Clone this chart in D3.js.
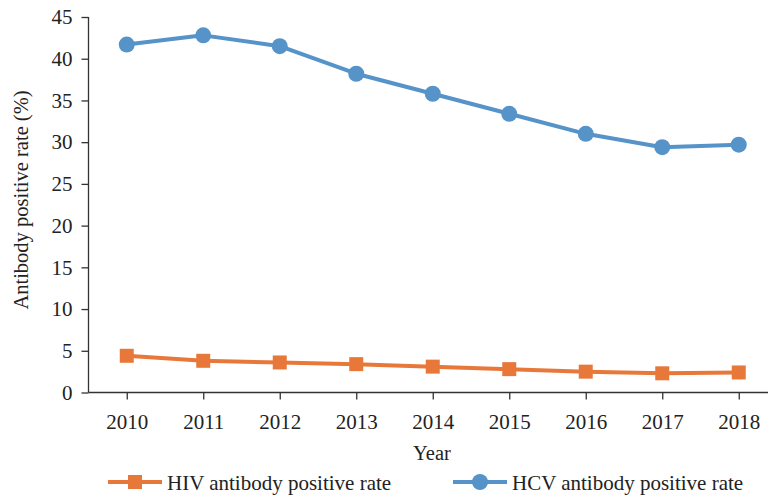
<!DOCTYPE html>
<html>
<head>
<meta charset="utf-8">
<script src="https://cdn.jsdelivr.net/npm/d3@7"></script>
<style>
  body { margin: 0; background: #fff; }
  svg text { font-family: "Liberation Serif", "Times New Roman", serif; fill: #222; }
</style>
</head>
<body>
<svg id="chart" width="768" height="497"></svg>
<script>
var years = ['2010', '2011', '2012', '2013', '2014', '2015', '2016', '2017', '2018'];
var hivRate = [4.4, 3.8, 3.6, 3.4, 3.1, 2.8, 2.5, 2.3, 2.4];
var hcvRate = [41.7, 42.8, 41.5, 38.2, 35.8, 33.4, 31.0, 29.4, 29.7];
var yTicks = [0, 5, 10, 15, 20, 25, 30, 35, 40, 45];

var svg = d3.select('#chart'),
    plotLeft = 88.5, plotRight = 777, plotTop = 17, plotBottom = 392.5;

var x = d3.scalePoint().domain(years).range([plotLeft, plotRight]).padding(0.5);
var y = d3.scaleLinear().domain([0, 45]).range([plotBottom, plotTop]);

// axes
var yAxis = svg.append('g')
    .attr('transform', 'translate(' + plotLeft + ',0)')
    .call(d3.axisLeft(y).tickValues(yTicks).tickSize(7).tickPadding(9));
var xAxis = svg.append('g')
    .attr('transform', 'translate(0,' + plotBottom + ')')
    .call(d3.axisBottom(x).tickSize(7).tickPadding(15));

[yAxis, xAxis].forEach(function(a) {
    a.select('.domain').attr('stroke', '#333').attr('stroke-width', 1.3);
    a.selectAll('.tick line').attr('stroke', '#333').attr('stroke-width', 1.3);
    a.selectAll('.tick text').attr('font-size', 21).attr('fill', '#222');
});
xAxis.select('.domain').attr('d', 'M' + plotLeft + ',0H' + plotRight);
yAxis.select('.domain').attr('d', 'M0,' + plotTop + 'V' + plotBottom);

// axis titles
svg.append('text')
    .attr('transform', 'translate(28,200) rotate(-90)')
    .attr('text-anchor', 'middle')
    .attr('font-size', 20.5)
    .text('Antibody positive rate (%)');
svg.append('text')
    .attr('x', 432).attr('y', 460)
    .attr('text-anchor', 'middle')
    .attr('font-size', 20.5)
    .text('Year');

var series = [
    { name: 'HIV antibody positive rate', values: hivRate, color: '#E8783A', shape: 'square' },
    { name: 'HCV antibody positive rate', values: hcvRate, color: '#5593C9', shape: 'circle' }
];

var line = d3.line()
    .x(function(d, i) { return x(years[i]); })
    .y(function(d) { return y(d); });

function drawMarker(g, s, cx, cy) {
    if (s.shape === 'square') {
        g.append('rect')
            .attr('x', cx - 7).attr('y', cy - 7)
            .attr('width', 14).attr('height', 14)
            .attr('fill', s.color);
    } else {
        g.append('circle')
            .attr('cx', cx).attr('cy', cy).attr('r', 8)
            .attr('fill', s.color);
    }
}

series.forEach(function(s) {
    var g = svg.append('g');
    g.append('path')
        .datum(s.values)
        .attr('fill', 'none')
        .attr('stroke', s.color)
        .attr('stroke-width', 4)
        .attr('stroke-linejoin', 'round')
        .attr('d', line);
    s.values.forEach(function(v, i) {
        drawMarker(g, s, x(years[i]), y(v));
    });
});

// legend
var legendX = [108, 453];
series.forEach(function(s, i) {
    var g = svg.append('g').attr('transform', 'translate(' + legendX[i] + ',482)');
    g.append('line')
        .attr('x1', 0).attr('x2', 54).attr('y1', 0).attr('y2', 0)
        .attr('stroke', s.color).attr('stroke-width', 4);
    drawMarker(g, s, 27, 0);
    g.append('text')
        .attr('x', 59).attr('y', 7.5)
        .attr('font-size', 21)
        .text(s.name);
});
</script>
</body>
</html>
